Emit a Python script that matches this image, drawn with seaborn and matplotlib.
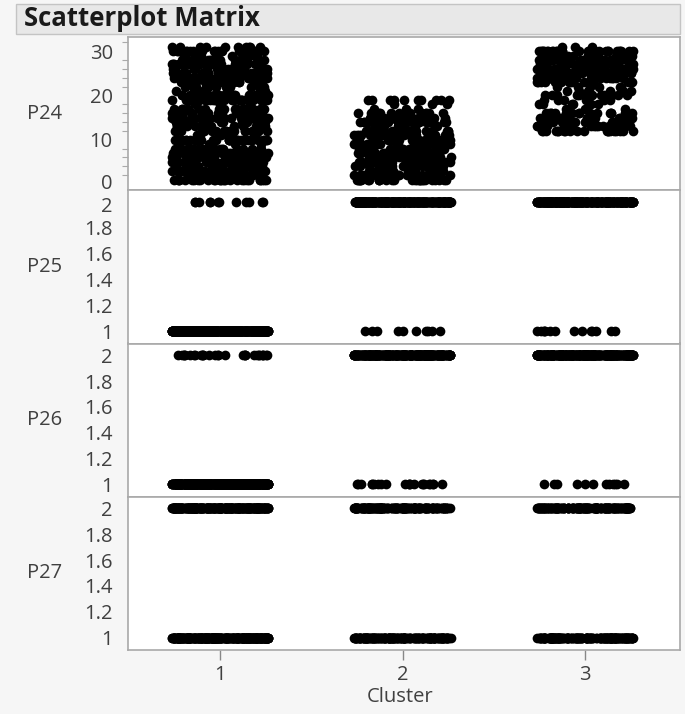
import numpy as np
import pandas as pd
import matplotlib
matplotlib.use("Agg")
import matplotlib.pyplot as plt
from matplotlib.patches import Rectangle
from matplotlib.ticker import MultipleLocator
from matplotlib.transforms import ScaledTranslation
import seaborn as sns

# ---------------- data ----------------
clusters = [1, 2, 3]

# P24: value -> count, per cluster
p24_c1_values = list(range(1, 32))
p24_c1_counts = [28, 24, 28, 20, 28, 20, 24, 24, 3, 36, 6, 20, 16, 20, 24, 16,
                 20, 3, 36, 28, 6, 12, 20, 28, 32, 16, 24, 16, 10, 20, 10]
p24_c2_values = list(range(1, 20))
p24_c2_counts = [28, 32, 12, 16, 20, 24, 20, 24, 16, 20, 20, 24, 6, 24, 28, 16, 3, 3, 10]
p24_c3_values = list(range(12, 32))
p24_c3_counts = [20, 16, 16, 20, 16, 3, 6, 6, 14, 6, 6, 16, 24, 28, 32, 24, 28, 24, 28, 3]

# P25..P27: counts of value 1 and value 2 per cluster
binary_values = [1, 2]
p25_counts = {1: [580, 12], 2: [10, 336], 3: [14, 341]}
p26_counts = {1: [562, 30], 2: [22, 324], 3: [12, 343]}
p27_counts = {1: [310, 282], 2: [170, 176], 3: [180, 175]}

row_vars = ["P24", "P25", "P26", "P27"]

# ---------------- build long tables ----------------
def table_from(values_by_cluster, counts_by_cluster, name):
    rows = []
    for c in clusters:
        vals = np.repeat(values_by_cluster[c], counts_by_cluster[c])
        rows.append(pd.DataFrame({"Cluster": c, name: vals}))
    return pd.concat(rows, ignore_index=True)

tables = {
    "P24": table_from({1: p24_c1_values, 2: p24_c2_values, 3: p24_c3_values},
                      {1: p24_c1_counts, 2: p24_c2_counts, 3: p24_c3_counts}, "P24"),
    "P25": table_from({c: binary_values for c in clusters}, p25_counts, "P25"),
    "P26": table_from({c: binary_values for c in clusters}, p26_counts, "P26"),
    "P27": table_from({c: binary_values for c in clusters}, p27_counts, "P27"),
}

# ---------------- figure ----------------
sns.set_style("white")
plt.rcParams["font.family"] = ["Open Sans", "DejaVu Sans"]
np.random.seed(7)

W, H = 685, 714
bg = "#f6f6f6"
fig = plt.figure(figsize=(W / 100, H / 100), dpi=100, facecolor=bg)

# title box
fig.patches.append(Rectangle((16 / W, 1 - 34 / H), (680 - 16) / W, 30 / H,
                             transform=fig.transFigure, facecolor="#e8e8e8",
                             edgecolor="#c4c4c4", linewidth=1.0, zorder=0))
fig.text(24 / W, 1 - 19 / H, "Scatterplot Matrix", fontsize=18.5,
         fontweight="bold", color="#1a1a1a", va="center", ha="left")

left_px, right_px, top_px, bottom_px = 128, 680, 37, 650
row_h = (bottom_px - top_px) / 4
ylims = {"P24": (-1.4, 33.2), "P25": (0.905, 2.09), "P26": (0.905, 2.09), "P27": (0.905, 2.09)}
spine_col = "#a9a9a9"
tick_col = "#404040"
fs = 14.5

for i, var in enumerate(row_vars):
    y0 = top_px + i * row_h
    ax = fig.add_axes([left_px / W, 1 - (y0 + row_h) / H,
                       (right_px - left_px) / W, row_h / H])
    ax.set_facecolor("white")
    sns.stripplot(data=tables[var], x="Cluster", y=var, order=clusters,
                  color="black", size=7, jitter=0.265, linewidth=0,
                  native_scale=False, ax=ax, zorder=3)
    ax.set_xlim(-0.504, 2.52)
    ax.set_ylim(*ylims[var])
    for s in ax.spines.values():
        s.set_color(spine_col)
        s.set_linewidth(1.2)
    if var == "P24":
        ax.set_yticks([0, 10, 20, 30])
        ax.set_yticklabels(["0", "10", "20", "30"])
        ax.yaxis.set_minor_locator(MultipleLocator(2))
    else:
        ticks = [1, 1.2, 1.4, 1.6, 1.8, 2]
        ax.set_yticks(ticks)
        ax.set_yticklabels(["1", "1.2", "1.4", "1.6", "1.8", "2"])
    ax.tick_params(axis="y", which="major", direction="out", length=7,
                   width=1, color="#888888", labelsize=fs, labelcolor=tick_col, pad=4)
    ax.tick_params(axis="y", which="minor", direction="out", length=4,
                   width=0.8, color="#aaaaaa", left=True)
    # small nudges so neighbouring labels across panel boundaries do not collide
    ticks_objs = ax.yaxis.get_major_ticks()
    if var == "P24":
        lab = ticks_objs[0].label1
        lab.set_transform(lab.get_transform() + ScaledTranslation(0, 0.03, fig.dpi_scale_trans))
    if var == "P25":
        lab = ticks_objs[-1].label1
        lab.set_transform(lab.get_transform() + ScaledTranslation(0, -0.03, fig.dpi_scale_trans))
    ax.set_ylabel("")
    ax.set_xlabel("")
    if i < 3:
        ax.tick_params(axis="x", bottom=False, labelbottom=False)
    else:
        ax.set_xticks([0, 1, 2])
        ax.set_xticklabels(["1", "2", "3"])
        ax.tick_params(axis="x", direction="out", length=7, width=1,
                       color="#888888", labelsize=fs, labelcolor=tick_col, pad=4,
                       bottom=True)
    fig.text(45 / W, 1 - (y0 + row_h * 0.5) / H, var, fontsize=fs,
             color=tick_col, ha="center", va="center")

fig.text(400 / W, 1 - 697 / H, "Cluster", fontsize=fs, color=tick_col,
         ha="center", va="center")

fig.savefig("out.png", dpi=100, facecolor=bg)
